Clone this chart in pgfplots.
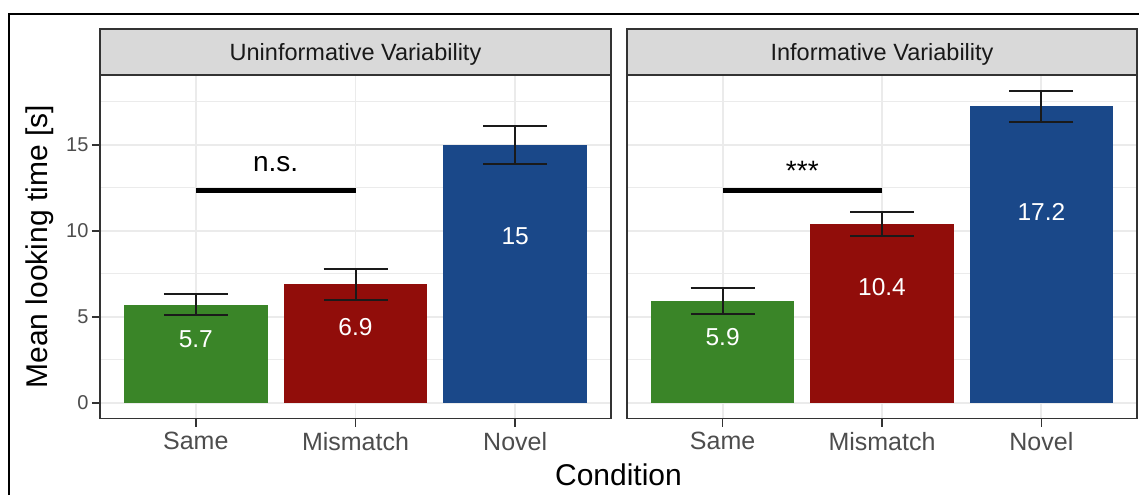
\documentclass[border=0pt]{standalone}
\usepackage{pgfplots}
\pgfplotsset{compat=1.18}
\usepackage{fontspec}
\setmainfont{Liberation Sans}
\definecolor{gsame}{HTML}{3A8528}
\definecolor{rmis}{HTML}{910D0A}
\definecolor{bnov}{HTML}{1A4889}
\definecolor{grey20}{HTML}{333333}
\definecolor{grey30}{HTML}{4D4D4D}
\definecolor{gridc}{HTML}{EBEBEB}
\definecolor{stripc}{HTML}{D9D9D9}
\definecolor{ebar}{HTML}{1A1A1A}

\pgfplotsset{
  facet/.style={
    scale only axis, width=511pt, height=343.6pt,
    anchor=south west,
    xmin=0.4, xmax=3.6, ymin=-0.907, ymax=19.05,
    xtick={1,2,3}, xticklabels={Same,Mismatch,Novel},
    ytick={0,5,10,15}, minor ytick={2.5,7.5,12.5,17.5},
    xmajorgrids, ymajorgrids, yminorgrids,
    major grid style={color=gridc, line width=1.8pt},
    minor grid style={color=gridc, line width=0.9pt},
    axis line style={color=grey20, line width=1.6pt},
    tick align=outside, major tick length=8pt, minor tick length=0pt,
    tick pos=left,
    tick style={color=grey20, line width=1.6pt},
    ticklabel style={text=grey30},
    x tick label style={font=\fontsize{25}{29}\selectfont, yshift=-2pt},
    y tick label style={font=\fontsize{20}{24}\selectfont},
    /pgf/number format/assume math mode=true,
  },
  bars/.style={ybar, bar width=0.9, bar shift=0pt, draw=none, fill=#1,
    error bars/.cd, y dir=both, y explicit,
    error bar style={draw=ebar, line width=2pt},
    error mark options={draw=ebar, line width=2pt, mark size=32pt, rotate=90}},
}
\tikzset{vlab/.style={text=white, font=\fontsize{24.5}{28}\selectfont}}

\begin{document}
\begin{tikzpicture}
\useasboundingbox (0,0) rectangle (1139pt,495pt);
\fill[white] (0,0) rectangle (1139pt,495pt);
\draw[black, line width=2pt] (9pt,0) -- (9pt,481pt) -- (1139pt,481pt);

% Left panel: Uninformative Variability
\begin{axis}[facet, at={(100pt,76.4pt)}]
\addplot[bars=gsame] coordinates {(1,5.72) +- (0,0.60)};
\addplot[bars=rmis]  coordinates {(2,6.89) +- (0,0.88)};
\addplot[bars=bnov]  coordinates {(3,14.99) +- (0,1.11)};
\addplot[black, line width=4.5pt] coordinates {(1,12.33) (2,12.33)};
\node[vlab] at (axis cs:1,3.68) {5.7};
\node[vlab] at (axis cs:2,4.42) {6.9};
\node[vlab] at (axis cs:3,9.70) {15};
\node[anchor=base, font=\fontsize{28}{32}\selectfont] at (axis cs:1.5,13.45) {n.s.};
\end{axis}

% Right panel: Informative Variability
\begin{axis}[facet, at={(627pt,76.4pt)}, width=510pt, yticklabels={}, ytick style={draw=none}]
\addplot[bars=gsame] coordinates {(1,5.93) +- (0,0.77)};
\addplot[bars=rmis]  coordinates {(2,10.40) +- (0,0.72)};
\addplot[bars=bnov]  coordinates {(3,17.23) +- (0,0.91)};
\addplot[black, line width=4.5pt] coordinates {(1,12.33) (2,12.33)};
\node[vlab] at (axis cs:1,3.80) {5.9};
\node[vlab] at (axis cs:2,6.76) {10.4};
\node[vlab] at (axis cs:3,11.12) {17.2};
\node[anchor=base, font=\fontsize{28}{32}\selectfont] at (axis cs:1.5,12.93) {***};
\end{axis}

% strips
\draw[fill=stripc, draw=grey20, line width=1.6pt] (100pt,420pt) rectangle (611pt,466pt);
\draw[fill=stripc, draw=grey20, line width=1.6pt] (627pt,420pt) rectangle (1137pt,466pt);
\node[anchor=base, text=black!90, font=\fontsize{23.5}{27}\selectfont] at (355.5pt,434pt) {Uninformative Variability};
\node[anchor=base, text=black!90, font=\fontsize{23.5}{27}\selectfont] at (882pt,434pt) {Informative Variability};

% axis titles
\node[anchor=base, font=\fontsize{30}{34}\selectfont] at (618.5pt,10pt) {Condition};
\node[anchor=base, rotate=90, font=\fontsize{30}{34}\selectfont] at (47pt,248.3pt) {Mean looking time [s]};
\end{tikzpicture}
\end{document}
